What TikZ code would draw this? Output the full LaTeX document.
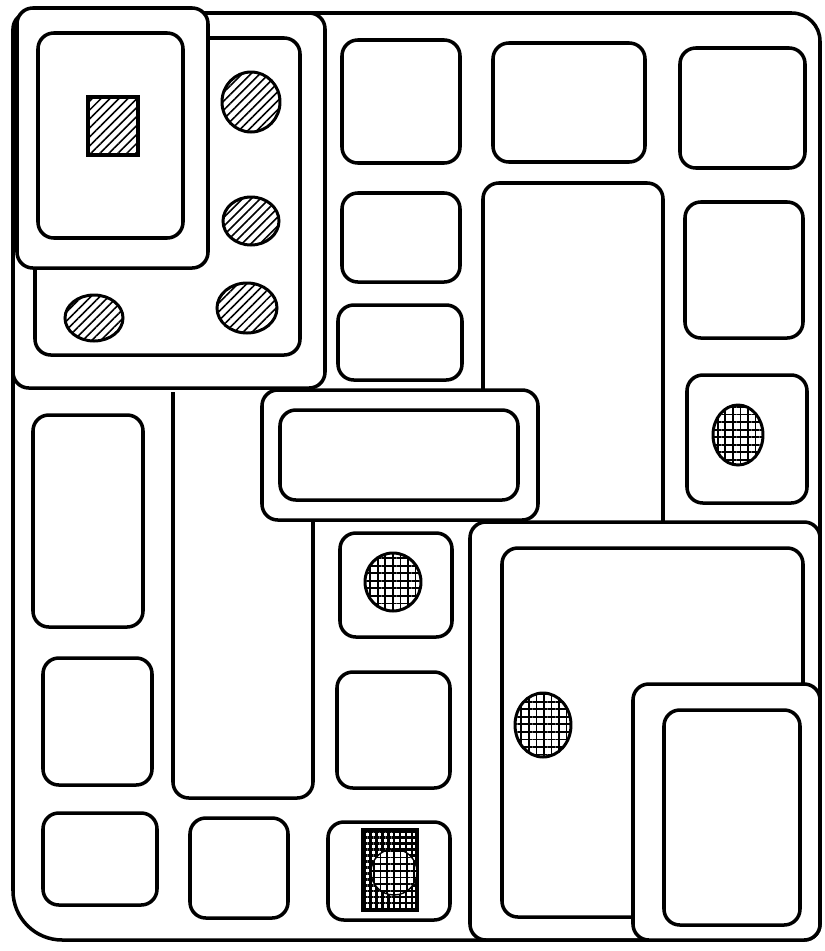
\documentclass[tikz,border=0pt]{standalone}
\usetikzlibrary{patterns.meta}
\begin{document}
\begin{tikzpicture}[x=0.02cm, y=-0.02cm] % coordinate in pixel, y verso il basso
    % Stili per pareti, stanze e campiture
    \tikzset{
        wall/.style={
            line width=2pt,
            rounded corners=9pt
        },
        room/.style={wall, fill=white},
        hatched/.style={
            line width=1.7pt,
            pattern={Lines[angle=45, distance=3.6pt, line width=0.9pt]}
        },
        meshed/.style={
            line width=1.7pt,
            pattern={Hatch[angle=0, distance=4.3pt, line width=1pt]}
        }
    }

    \useasboundingbox (0,0) rectangle (825,951);

    % --- Cornice esterna ---
    \draw[wall, rounded corners=16pt] (400,13) -- (820,13) -- (820,940)
        [rounded corners=28pt] -- (13,940) [rounded corners=16pt] -- (13,13) -- (400,13);

    % --- Blocco in alto a sinistra ---
    \draw[room] (13,13) rectangle (325,388);
    \draw[wall] (35,38) rectangle (300,355);
    \draw[room] (17,8) rectangle (208,268);
    \draw[wall] (38,33) rectangle (183,238);
    \draw[hatched, line width=2pt] (88,97) rectangle (138,155);
    \draw[hatched] (251,102) ellipse [x radius=29, y radius=30];
    \draw[hatched] (251,221) ellipse [x radius=28, y radius=24];
    \draw[hatched] (247,308) ellipse [x radius=30, y radius=25];
    \draw[hatched] (94,318) ellipse [x radius=29, y radius=23];

    % --- Stanze in alto ---
    \draw[wall] (342,40) rectangle (460,163);
    \draw[wall] (493,43) rectangle (645,162);
    \draw[wall] (680,48) rectangle (805,168);
    \draw[wall] (342,193) rectangle (460,282);
    \draw[wall] (338,305) rectangle (462,380);
    \draw[wall] (685,202) rectangle (803,338);
    \draw[wall] (687,375) rectangle (807,503);
    \draw[meshed] (738,435) ellipse [x radius=25, y radius=30];
    % vano alto al centro
    \draw[wall] (483,390) -- (483,183) -- (663,183) [sharp corners] -- (663,522);

    % --- Colonna in basso a sinistra ---
    \draw[wall] (33,415) rectangle (143,627);
    \draw[wall] (43,658) rectangle (152,785);
    \draw[wall] (173,392) -- (173,798) -- (313,798) -- (313,520);
    \draw[wall] (43,813) rectangle (157,905);
    \draw[wall] (190,818) rectangle (288,918);

    % --- Colonna centrale ---
    \draw[wall] (340,533) rectangle (452,637);
    \draw[meshed] (393,582) ellipse [x radius=28, y radius=29];
    \draw[wall] (337,672) rectangle (450,788);
    \draw[wall] (328,822) rectangle (450,920);
    \draw[line width=1.8pt, pattern={Hatch[angle=0, distance=3.4pt, line width=1.4pt]}]
        (363,830) rectangle (417,910);
    \draw[line width=0.8pt, preaction={fill=white},
        pattern={Hatch[angle=0, distance=3.8pt, line width=0.9pt]}]
        (394,872) circle [radius=23];

    % --- Blocco in basso a destra ---
    \draw[wall] (470,522) rectangle (820,940);
    \draw[wall] (502,548) rectangle (803,917);
    \draw[meshed] (543,725) ellipse [x radius=28, y radius=32];
    \draw[room] (633,684) rectangle (820,940);
    \draw[wall] (664,710) rectangle (800,925);

    % --- Fascia centrale ---
    \draw[room] (262,390) rectangle (538,520);
    \draw[wall] (280,410) rectangle (518,500);

\end{tikzpicture}
\end{document}
